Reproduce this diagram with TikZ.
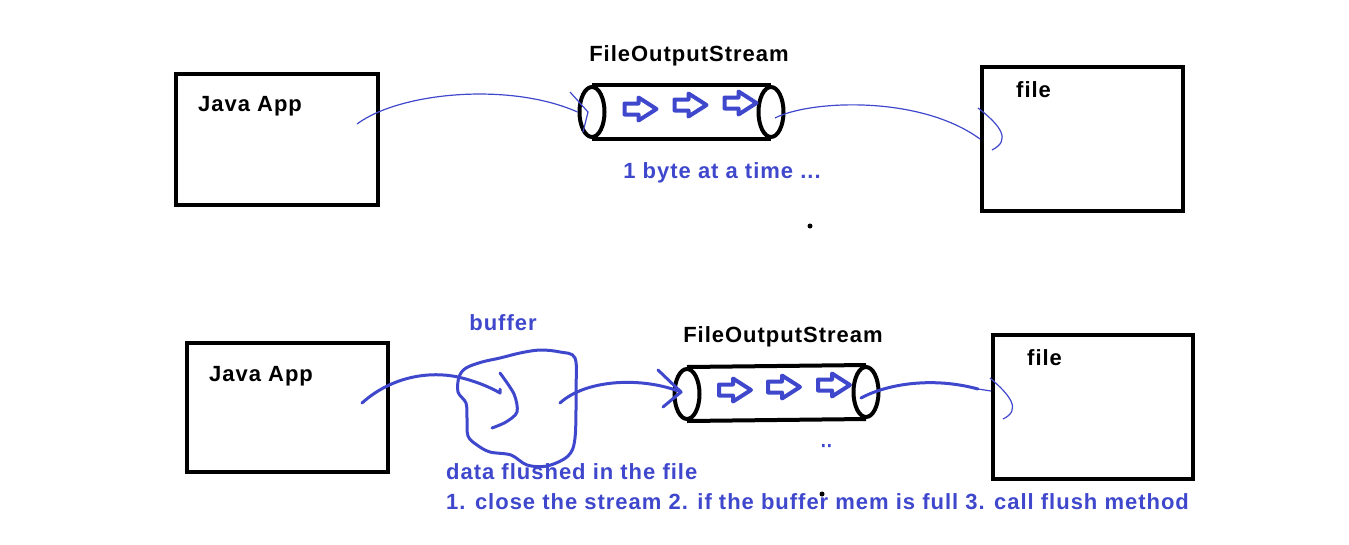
\documentclass[tikz,border=0pt]{standalone}
\usepackage{fontspec}
\setmainfont{Liberation Sans}[LetterSpace=4.5]
\usetikzlibrary{shapes.geometric}
\definecolor{pblue}{RGB}{63,72,204}
\tikzset{
  box/.style={draw=black,line width=4pt,minimum width=#1,inner sep=0pt},
  lbl/.style={inner sep=0pt,font=\fontsize{22}{26}\selectfont\bfseries},
  blbl/.style={lbl,text=pblue},
  pend/.style={ellipse,draw=black,line width=4pt,minimum width=25pt,minimum height=50pt,inner sep=0pt},
  flowarrow/.pic={\draw[pblue,line width=4pt,line join=round]
     (-16,-5.5) -- (-2,-5.5) -- (-2,-11.5) -- (16,0) -- (-2,11.5) -- (-2,5.5) -- (-16,5.5) -- cycle;},
  thin/.style={draw=pblue,line width=1.2pt},
  thick/.style={draw=pblue,line width=3pt,line cap=round,line join=round},
}
\begin{document}
\begin{tikzpicture}[x=1pt,y=-1pt]
\useasboundingbox (0,0) rectangle (1349,544);
% ---------- top row ----------
\node[box=202pt,minimum height=131pt] (ja1) at (277,139.5) {};
\node[box=201pt,minimum height=144pt] (f1) at (1082.5,139) {};
\node[lbl,anchor=base west] (ja1t) at (198,111) {Java App};
\node[lbl,anchor=base west] (f1t) at (1016,97) {file};
\node[lbl,anchor=base] (fos1) at (689,61) {FileOutputStream};
\node[pend] (p1l) at (592,112) {};
\node[pend] (p1r) at (771,112) {};
\draw[line width=4pt] (p1l.north) -- (p1r.north) (p1l.south) -- (p1r.south);
\pic at (640.5,109) {flowarrow};
\pic at (690.5,105) {flowarrow};
\pic at (740.5,103) {flowarrow};
\node[blbl,anchor=base] (t1) at (722,178) {1 byte at a time ...};
\coordinate (c1s) at (357,124);
\coordinate (c1r) at (775,118);
\draw[thin] (c1s) .. controls (400,92) and (510,82) .. (p1l.west);
\draw[thin] (570,92) -- (588,112) -- (583,132);
\draw[thin] (c1r) .. controls (810,100) and (920,95) .. (f1.west);
\draw[thin] (978,108) .. controls (1000,125) and (1012,140) .. (992,150);
\node[ellipse,fill=black,minimum width=5pt,minimum height=5pt,inner sep=0pt] (d1) at (810,226) {};
% ---------- bottom row ----------
\node[box=201pt,minimum height=129pt] (ja2) at (287.5,407.5) {};
\node[box=200pt,minimum height=144pt] (f2) at (1093,407) {};
\node[lbl,anchor=base west] (ja2t) at (209,381) {Java App};
\node[lbl,anchor=base west] (f2t) at (1027,365) {file};
\node[lbl,anchor=base] (fos2) at (783,342) {FileOutputStream};
\node[blbl,anchor=base] (buf) at (503,330) {buffer};
\node[pend] (p2l) at (687,394) {};
\node[pend] (p2r) at (866,392) {};
\draw[line width=4pt] (p2l.north) -- (p2r.north) (p2l.south) -- (p2r.south);
\pic at (735,390) {flowarrow};
\pic at (784,387) {flowarrow};
\pic at (834,385) {flowarrow};
% buffer blob
\draw[thick] plot[smooth cycle,tension=0.55] coordinates {
 (466,368) (482,362) (500,358) (520,353) (540,350) (560,352) (575,358)
 (576,390) (575,438) (568,456) (547,466) (527,465) (511,455) (490,452)
 (477,445) (468,436) (467,418) (466,403) (458,392) (459,377)};
\draw[thick] plot[smooth,tension=0.5] coordinates {(500,373) (514,394) (517,412) (506,422) (492,428)};
\coordinate (c2s) at (362,403);
\coordinate (c2b) at (500,393);
\coordinate (c2o) at (560,403);
\coordinate (c2p) at (681,392);
\draw[thick] (c2s) .. controls (392,376) and (430,371) .. (458,377) .. controls (475,381) and (490,387) .. (c2b) -- ++(0,-4);
\draw[thick] (c2o) .. controls (585,380) and (640,376) .. (c2p);
\draw[thick] (658,370) -- (c2p) -- (663,407);
\coordinate (c3s) at (861,398);
\coordinate (c3m) at (978,389);
\draw[thick] (c3s) .. controls (885,385) and (930,376) .. (c3m);
\draw[thin] (c3m) -- (f2.west |- 0,391);
\draw[thin] (990,378) .. controls (1010,395) and (1022,410) .. (1003,419);
\fill[pblue] (822,444) rectangle ++(2.5,3) (828,444) rectangle ++(2.5,3);
\node[blbl,anchor=base west] (t2) at (446,479) {data flushed in the file};
\node[blbl,anchor=base west] (t3) at (446,509) {1. close the stream 2. if the buffer mem is full 3. call flush method};
\node[ellipse,fill=black,minimum width=5pt,minimum height=5pt,inner sep=0pt] (d2) at (822,494) {};
\end{tikzpicture}
\end{document}
